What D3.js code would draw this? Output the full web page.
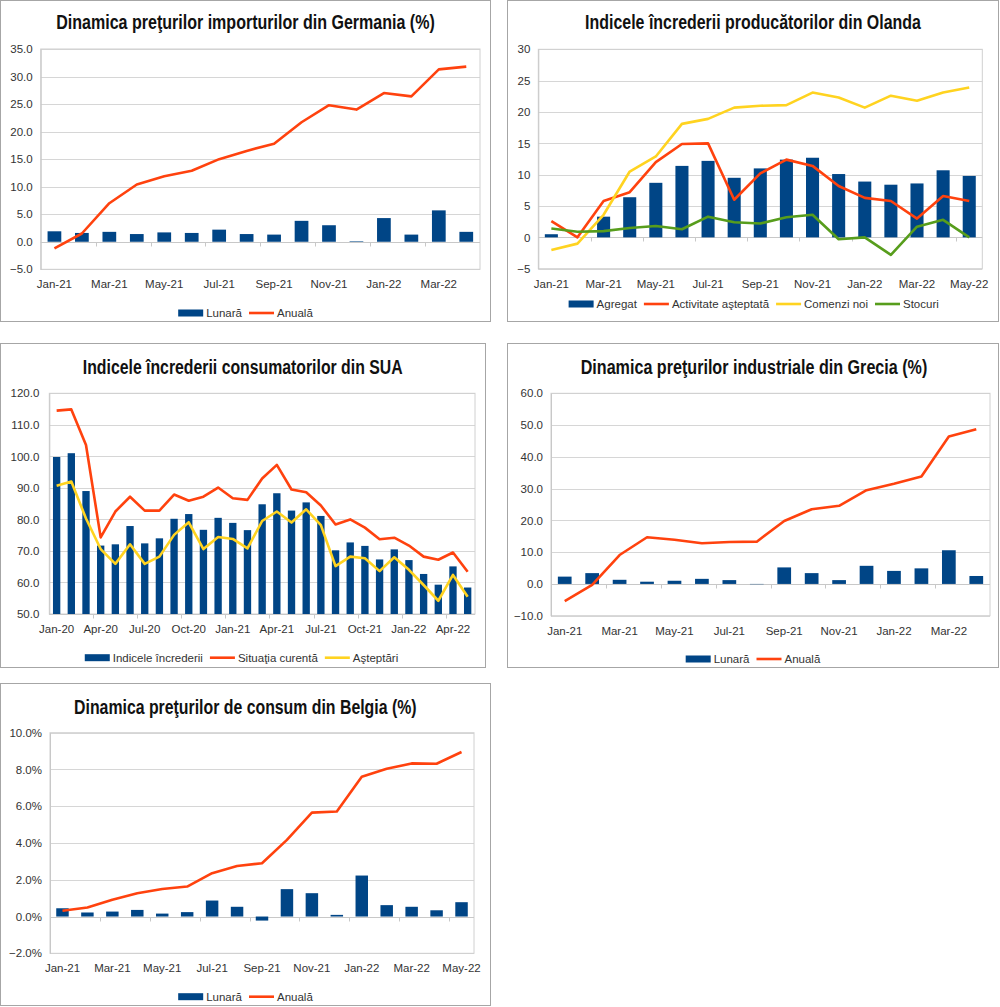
<!DOCTYPE html>
<html>
<head>
<meta charset="utf-8">
<script src="https://cdn.jsdelivr.net/npm/d3@7"></script>
<style>
  body { margin: 0; background: #fff; }
  text { font-family: "Liberation Sans", Arial, sans-serif; }
  .title { font-family: "Liberation Sans Narrow", "Liberation Sans", Arial, sans-serif; font-weight: bold; }
</style>
</head>
<body>
<div id="viz"></div>
<script>
// categories
var months16 = ["Jan-21","Feb-21","Mar-21","Apr-21","May-21","Jun-21","Jul-21","Aug-21","Sep-21","Oct-21","Nov-21","Dec-21","Jan-22","Feb-22","Mar-22","Apr-22"];
var months17 = ["Jan-21","Feb-21","Mar-21","Apr-21","May-21","Jun-21","Jul-21","Aug-21","Sep-21","Oct-21","Nov-21","Dec-21","Jan-22","Feb-22","Mar-22","Apr-22","May-22"];
var months29 = ["Jan-20","Feb-20","Mar-20","Apr-20","May-20","Jun-20","Jul-20","Aug-20","Sep-20","Oct-20","Nov-20","Dec-20",
                "Jan-21","Feb-21","Mar-21","Apr-21","May-21","Jun-21","Jul-21","Aug-21","Sep-21","Oct-21","Nov-21","Dec-21",
                "Jan-22","Feb-22","Mar-22","Apr-22","May-22"];

// Germania - preturi import
var deLunara = [1.9, 1.6, 1.8, 1.4, 1.7, 1.6, 2.2, 1.4, 1.3, 3.8, 3.0, 0.1, 4.3, 1.3, 5.7, 1.8];
var deAnuala = [-1.2, 1.5, 7.0, 10.4, 11.9, 12.9, 15.0, 16.5, 17.8, 21.7, 24.8, 24.0, 27.0, 26.4, 31.3, 31.8];
var deTicks = [-5, 0, 5, 10, 15, 20, 25, 30, 35];

// Olanda - incredere producatori
var nlAgregat = [0.5, 0, 3.3, 6.4, 8.7, 11.4, 12.2, 9.5, 11.0, 12.4, 12.7, 10.1, 8.9, 8.4, 8.6, 10.7, 9.8];
var nlActivitate = [2.6, 0.0, 5.8, 7.2, 12.0, 14.9, 15.0, 6.0, 10.2, 12.4, 11.4, 8.2, 6.3, 5.8, 3.0, 6.6, 5.8];
var nlComenzi = [-2.0, -1.0, 3.6, 10.5, 12.9, 18.1, 18.9, 20.7, 21.0, 21.1, 23.1, 22.3, 20.7, 22.6, 21.8, 23.1, 23.9];
var nlStocuri = [1.4, 0.9, 1.0, 1.5, 1.8, 1.3, 3.3, 2.4, 2.2, 3.2, 3.6, -0.3, 0.0, -2.8, 1.7, 2.8, 0.0];
var nlTicks = [-5, 0, 5, 10, 15, 20, 25, 30];

// SUA - incredere consumatori
var usIndice = [99.8, 101.0, 89.0, 71.7, 72.1, 77.9, 72.4, 74.0, 80.2, 81.7, 76.7, 80.5,
                78.9, 76.6, 84.8, 88.3, 82.8, 85.4, 81.1, 70.2, 72.7, 71.6, 67.3, 70.5,
                67.1, 62.7, 59.3, 65.1, 58.4];
var usSituatia = [114.5, 114.9, 103.6, 74.3, 82.5, 87.2, 82.8, 82.8, 87.9, 85.9, 87.2, 90.1,
                  86.7, 86.2, 93.0, 97.3, 89.5, 88.6, 84.4, 78.4, 80.0, 77.4, 73.7, 74.2,
                  71.7, 68.2, 67.2, 69.5, 63.4];
var usAsteptari = [90.7, 92.0, 80.3, 70.6, 65.9, 72.1, 65.9, 68.2, 75.1, 79.1, 70.6, 74.4,
                   73.8, 70.8, 79.5, 82.5, 79.0, 83.2, 78.2, 65.2, 68.2, 67.7, 63.6, 68.0,
                   64.0, 59.2, 54.2, 62.4, 55.5];
var usTicks = [50, 60, 70, 80, 90, 100, 110, 120];

// Grecia - preturi industriale
var grLunara = [2.3, 3.4, 1.3, 0.7, 1.0, 1.6, 1.2, -0.1, 5.2, 3.4, 1.2, 5.7, 4.1, 4.9, 10.6, 2.5];
var grAnuala = [-5.4, -0.3, 9.1, 14.7, 13.9, 12.8, 13.2, 13.3, 19.8, 23.5, 24.6, 29.5, 31.5, 33.8, 46.4, 48.7];
var grTicks = [-10, 0, 10, 20, 30, 40, 50, 60];

// Belgia - preturi de consum
var beLunara = [0.45, 0.22, 0.27, 0.36, 0.16, 0.24, 0.87, 0.53, -0.22, 1.49, 1.27, 0.09, 2.23, 0.62, 0.53, 0.34, 0.78];
var beAnuala = [0.31, 0.49, 0.91, 1.27, 1.50, 1.63, 2.36, 2.75, 2.90, 4.17, 5.65, 5.71, 7.61, 8.04, 8.33, 8.31, 8.95];
var beTicks = [-2, 0, 2, 4, 6, 8, 10];

var BLUE = "#004586", ORANGE = "#ff420e", YELLOW = "#ffd320", GREEN = "#579d1c";

var svg = d3.select("#viz").append("svg")
    .attr("width", 1000)
    .attr("height", 1007);

function drawPanel(p) {
  var g = svg.append("g");

  g.append("rect")
      .attr("x", p.box[0] + 0.5).attr("y", p.box[1] + 0.5)
      .attr("width", p.box[2] - p.box[0]).attr("height", p.box[3] - p.box[1])
      .attr("fill", "#fff").attr("stroke", "#a6a6a6");

  // title: condensed by a horizontal scale so it spans the same width as in the picture
  var title = g.append("text")
      .attr("class", "title")
      .attr("x", 0).attr("y", 0)
      .attr("text-anchor", "middle")
      .attr("font-size", 20.5)
      .attr("fill", "#111")
      .text(p.title.text);
  var nat = title.node().getComputedTextLength();
  title.attr("transform", "translate(" + p.title.cx + "," + p.title.y + ") scale(" + Math.min(1, p.title.w / nat) + ",1)");

  var x = d3.scaleBand()
      .domain(p.cats)
      .range([p.plot[0], p.plot[2]]);

  var y = d3.scaleLinear()
      .domain(d3.extent(p.ticks))
      .range([p.plot[3], p.plot[1]]);

  // grid
  g.append("g").selectAll("line")
      .data(p.ticks)
    .enter().append("line")
      .attr("x1", p.plot[0]).attr("x2", p.plot[2])
      .attr("y1", function(d) { return Math.round(y(d)) + 0.5; })
      .attr("y2", function(d) { return Math.round(y(d)) + 0.5; })
      .attr("stroke", "#d6d6d6");

  g.append("rect")
      .attr("x", p.plot[0]).attr("y", p.plot[1])
      .attr("width", p.plot[2] - p.plot[0]).attr("height", p.plot[3] - p.plot[1])
      .attr("fill", "none").attr("stroke", "#d0d0d0");

  // y axis labels
  var yAxis = d3.axisLeft(y)
      .tickValues(p.ticks)
      .tickSize(0)
      .tickPadding(p.pad || 8)
      .tickFormat(p.fmt);
  var ya = g.append("g")
      .attr("transform", "translate(" + p.plot[0] + ",0)")
      .call(yAxis);
  ya.select(".domain").attr("stroke", "#c8c8c8");
  ya.selectAll("text").attr("font-size", 11.5).attr("fill", "#333")
      .style("font-family", "'Liberation Sans', Arial, sans-serif");

  // category axis on the base line
  var base = p.base !== undefined ? p.base : 0;
  var yb = Math.round(y(base)) + 0.5;
  g.append("line")
      .attr("x1", p.plot[0]).attr("x2", p.plot[2])
      .attr("y1", yb).attr("y2", yb)
      .attr("stroke", "#c8c8c8");

  var bounds = p.cats.filter(function(d, i) { return i > 0 && i % p.every === 0; });
  g.append("g").selectAll("line")
      .data(bounds)
    .enter().append("line")
      .attr("x1", function(d) { return Math.round(x(d)) + 0.5; })
      .attr("x2", function(d) { return Math.round(x(d)) + 0.5; })
      .attr("y1", yb).attr("y2", yb + 4)
      .attr("stroke", "#c8c8c8");

  g.append("g").selectAll("text")
      .data(p.cats.filter(function(d, i) { return i % p.every === 0; }))
    .enter().append("text")
      .attr("x", function(d) { return x(d) + x.bandwidth() / 2; })
      .attr("y", p.labelY + 4)
      .attr("text-anchor", "middle")
      .attr("font-size", 11.5)
      .attr("fill", "#333")
      .text(function(d) { return d; });

  // bars
  var bw = x.bandwidth() * 0.5;
  g.append("g").selectAll("rect")
      .data(p.bars)
    .enter().append("rect")
      .attr("x", function(d, i) { return x(p.cats[i]) + (x.bandwidth() - bw) / 2; })
      .attr("y", function(d) { return y(Math.max(d, base)); })
      .attr("width", bw)
      .attr("height", function(d) { return Math.abs(y(d) - y(base)); })
      .attr("fill", BLUE);

  // lines
  var line = d3.line()
      .x(function(d, i) { return x(p.cats[i]) + x.bandwidth() / 2; })
      .y(function(d) { return y(d); });

  p.lines.forEach(function(s) {
    g.append("path")
        .datum(s.values)
        .attr("d", line)
        .attr("fill", "none")
        .attr("stroke", s.color)
        .attr("stroke-width", 2.6)
        .attr("stroke-linejoin", "round");
  });

  // legend
  var items = [{name: p.barName, color: BLUE, bar: true}].concat(p.lines);
  var leg = g.append("g");
  var cx = 0;
  items.forEach(function(it) {
    var it_g = leg.append("g").attr("transform", "translate(" + cx + ",0)");
    if (it.bar) {
      it_g.append("rect").attr("x", 0).attr("y", -3.5).attr("width", 25).attr("height", 7).attr("fill", it.color);
    } else {
      it_g.append("line").attr("x1", 0).attr("x2", 25).attr("y1", 0).attr("y2", 0)
          .attr("stroke", it.color).attr("stroke-width", 2.6);
    }
    var t = it_g.append("text")
        .attr("x", 28).attr("y", 4)
        .attr("font-size", 11.5)
        .attr("fill", "#333")
        .text(it.name);
    cx += 28 + t.node().getComputedTextLength() + 7;
  });
  cx -= 7;
  leg.attr("transform", "translate(" + (p.legend.cx - cx / 2) + "," + p.legend.y + ")");
}

var f1 = d3.format(".1f");

drawPanel({
  box: [0, 0, 490, 321],
  plot: [40.7, 49, 480, 269.3],
  title: {text: "Dinamica preţurilor importurilor din Germania (%)", cx: 245.5, y: 28.5, w: 379},
  cats: months16, every: 2, ticks: deTicks, fmt: f1,
  labelY: 284,
  bars: deLunara, barName: "Lunară",
  lines: [{name: "Anuală", values: deAnuala, color: ORANGE}],
  legend: {cx: 245.5, y: 313}
});

drawPanel({
  box: [507, 0, 998, 321],
  plot: [538.3, 49.3, 982.3, 268.7],
  title: {text: "Indicele încrederii producătorilor din Olanda", cx: 753, y: 28.5, w: 336},
  cats: months17, every: 2, ticks: nlTicks, fmt: d3.format("d"),
  labelY: 284,
  bars: nlAgregat, barName: "Agregat",
  lines: [
    {name: "Activitate aşteptată", values: nlActivitate, color: ORANGE},
    {name: "Comenzi noi", values: nlComenzi, color: YELLOW},
    {name: "Stocuri", values: nlStocuri, color: GREEN}
  ],
  legend: {cx: 753.7, y: 304}
});

drawPanel({
  box: [0, 343, 485, 667],
  plot: [49.3, 393.3, 475, 614],
  title: {text: "Indicele încrederii consumatorilor din SUA", cx: 242.7, y: 373.5, w: 320},
  cats: months29, every: 3, ticks: usTicks, fmt: f1, pad: 10, base: 50,
  labelY: 628.7,
  bars: usIndice, barName: "Indicele încrederii",
  lines: [
    {name: "Situaţia curentă", values: usSituatia, color: ORANGE},
    {name: "Aşteptări", values: usAsteptari, color: YELLOW}
  ],
  legend: {cx: 241.5, y: 657.7}
});

drawPanel({
  box: [507, 343, 998, 667],
  plot: [551, 393.3, 990, 615.7],
  title: {text: "Dinamica preţurilor industriale din Grecia (%)", cx: 754, y: 373.8, w: 346.7},
  cats: months16, every: 2, ticks: grTicks, fmt: f1,
  labelY: 630.7,
  bars: grLunara, barName: "Lunară",
  lines: [{name: "Anuală", values: grAnuala, color: ORANGE}],
  legend: {cx: 753, y: 659}
});

drawPanel({
  box: [0, 683, 490, 1005],
  plot: [50, 732.7, 474, 953.3],
  title: {text: "Dinamica preţurilor de consum din Belgia (%)", cx: 245.3, y: 713.8, w: 342.7},
  cats: months17, every: 2, ticks: beTicks, fmt: function(d) { return d3.format(".1f")(d) + "%"; },
  labelY: 967.7,
  bars: beLunara, barName: "Lunară",
  lines: [{name: "Anuală", values: beAnuala, color: ORANGE}],
  legend: {cx: 245.5, y: 996.7}
});
</script>
</body>
</html>
